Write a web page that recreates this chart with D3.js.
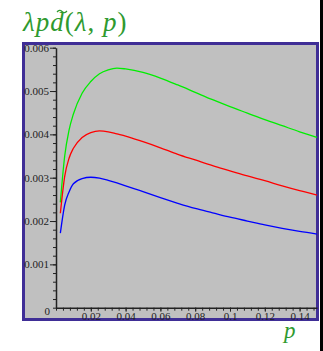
<!DOCTYPE html>
<html lang="en">
<head>
<meta charset="UTF-8">
<title>lambda p d(lambda, p)</title>
<script src="https://cdn.jsdelivr.net/npm/d3@7"></script>
<style>
*{margin:0; padding:0;}
body{background:#fff; overflow:hidden;}
</style>
</head>
<body>
<script>
// p values sampled along the curves
var pValues = [0.0025, 0.005, 0.0075, 0.01, 0.015, 0.02, 0.025, 0.03, 0.035, 0.04,
	0.05, 0.06, 0.07, 0.08, 0.09, 0.1, 0.11, 0.12, 0.13, 0.14, 0.15];
var greenValues = [0.00243, 0.00350, 0.00410, 0.00447, 0.00495, 0.00522, 0.00540, 0.00549, 0.00553, 0.00551,
	0.00543, 0.00530, 0.00514, 0.00497, 0.00480, 0.00464, 0.00449, 0.00434, 0.00420, 0.00406, 0.00393];
var redValues = [0.00218, 0.00303, 0.00345, 0.00368, 0.00393, 0.00404, 0.00408, 0.00406, 0.00401, 0.00396,
	0.00383, 0.00369, 0.00354, 0.00341, 0.00328, 0.00316, 0.00304, 0.00293, 0.00281, 0.00270, 0.00260];
var blueValues = [0.00172, 0.00237, 0.00267, 0.00286, 0.00298, 0.00301, 0.00299, 0.00294, 0.00288, 0.00281,
	0.00268, 0.00254, 0.00241, 0.00229, 0.00219, 0.00209, 0.00200, 0.00191, 0.00183, 0.00176, 0.00170];
var xTicks = [0.02, 0.04, 0.06, 0.08, 0.1, 0.12, 0.14];
var yTicks = [0.001, 0.002, 0.003, 0.004, 0.005, 0.006];

var width = 323, height = 351;
var serif = "'Liberation Serif', 'Times New Roman', serif";
var labelGreen = "#2f9a2f";

var svg = d3.select("body").append("svg")
	.attr("width", width)
	.attr("height", height);

var x = d3.scaleLinear().domain([0, 0.15]).range([56, 317]);
var y = d3.scaleLinear().domain([0, 0.006]).range([307.7, 47.7]);

// frame
svg.append("rect")
	.attr("x", 23.5).attr("y", 43.5)
	.attr("width", 294).attr("height", 276)
	.attr("fill", "#c0c0c0")
	.attr("stroke", "#3f2e96")
	.attr("stroke-width", 3);

svg.append("rect")
	.attr("x", 320).attr("y", 0)
	.attr("width", 3).attr("height", height)
	.attr("fill", "#000");

// minor ticks
var xMinor = d3.range(0, 0.1501, 0.004);
var yMinor = d3.range(0, 0.00601, 0.0002);

svg.append("g")
	.attr("transform", "translate(0," + y(0) + ")")
	.call(d3.axisBottom(x).tickValues(xMinor).tickSize(3).tickFormat(""))
	.call(function(g){ g.select(".domain").remove(); });
svg.append("g")
	.attr("transform", "translate(" + x(0) + ",0)")
	.call(d3.axisLeft(y).tickValues(yMinor).tickSize(3).tickFormat(""))
	.call(function(g){ g.select(".domain").remove(); });

// main axes
svg.append("g")
	.attr("transform", "translate(0," + y(0) + ")")
	.call(d3.axisBottom(x).tickValues(xTicks).tickSize(4).tickSizeOuter(0).tickPadding(1)
		.tickFormat(function(d){ return String(+d.toFixed(2)); }));
svg.append("g")
	.attr("transform", "translate(" + x(0) + ",0)")
	.call(d3.axisLeft(y).tickValues(yTicks).tickSize(6).tickSizeOuter(0).tickPadding(1)
		.tickFormat(function(d){ return d.toFixed(3); }));
svg.selectAll(".domain").attr("stroke", "#222").attr("stroke-width", 1.5);
svg.selectAll(".tick line").attr("stroke", "#222");
svg.selectAll(".tick text")
	.attr("font-family", serif)
	.attr("font-size", 11)
	.attr("fill", "#222");

svg.append("text")
	.attr("x", 50).attr("y", 315)
	.attr("text-anchor", "end")
	.attr("font-family", serif)
	.attr("font-size", 11)
	.attr("fill", "#222")
	.text("0");

// curves
var line = d3.line()
	.x(function(d){ return x(d[0]); })
	.y(function(d){ return y(d[1]); })
	.curve(d3.curveMonotoneX);

var series = [
	{values: greenValues, color: "#00ee00"},
	{values: redValues, color: "#ff0000"},
	{values: blueValues, color: "#0000ff"}
];
svg.selectAll("path.curve")
	.data(series)
	.enter()
	.append("path")
	.attr("class", "curve")
	.attr("fill", "none")
	.attr("stroke", function(d){ return d.color; })
	.attr("stroke-width", 1.3)
	.attr("d", function(d){
		return line(pValues.map(function(p, i){ return [p, d.values[i]]; }));
	});

// title
var title = svg.append("text")
	.attr("x", 23).attr("y", 31)
	.attr("fill", labelGreen)
	.attr("font-family", serif)
	.attr("font-size", 27)
	.attr("letter-spacing", 1);
title.append("tspan").attr("font-style", "italic").text("λpd");
title.append("tspan").text("(");
title.append("tspan").attr("font-style", "italic").text("λ");
title.append("tspan").text(", ");
title.append("tspan").attr("font-style", "italic").text("p");
title.append("tspan").text(")");

// tilde over the d
svg.append("path")
	.attr("d", "M57,12 q2.5,-3 5,-0.5 t5,-0.5")
	.attr("fill", "none")
	.attr("stroke", labelGreen)
	.attr("stroke-width", 1.2);

svg.append("text")
	.attr("x", 284).attr("y", 338)
	.attr("fill", labelGreen)
	.attr("font-family", serif)
	.attr("font-style", "italic")
	.attr("font-size", 23)
	.text("p");
</script>
</body>
</html>
